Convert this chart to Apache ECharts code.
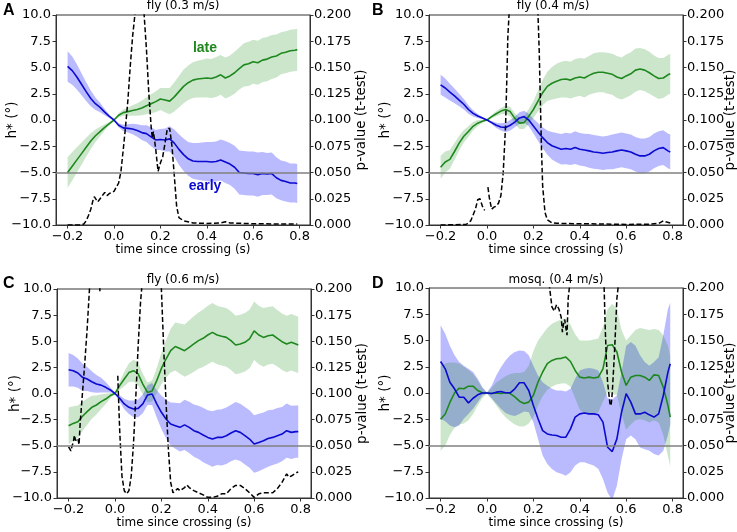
<!DOCTYPE html>
<html><head><meta charset="utf-8">
<script src="https://cdn.jsdelivr.net/npm/echarts@6/dist/echarts.min.js"></script>
<style>html,body{margin:0;padding:0;background:#fff}#c{width:737px;height:532px}</style>
</head><body><div id="c"></div>
<script>
// time since crossing (s)
const T = [-0.20,-0.18,-0.16,-0.14,-0.12,-0.10,-0.08,-0.06,-0.04,-0.02,0.00,0.02,0.04,0.06,0.08,0.10,0.12,0.14,0.16,0.18,0.20,0.22,0.24,0.26,0.28,0.30,0.32,0.34,0.36,0.38,0.40,0.42,0.44,0.46,0.48,0.50,0.52,0.54,0.56,0.58,0.60,0.62,0.64,0.66,0.68,0.70,0.72,0.74,0.76,0.78,0.79];
const xTicks = [-0.2, 0.0, 0.2, 0.4, 0.6, 0.8];

// Panel A: fly (0.3 m/s)
const lateA  = [-5.0,-4.4,-3.8,-3.2,-2.6,-2.0,-1.5,-1.1,-0.7,-0.35,0,0.45,0.7,0.8,0.9,1.0,1.15,1.35,1.55,1.75,2.0,1.9,1.8,2.2,2.7,3.2,3.55,3.8,3.9,3.95,4.0,3.95,4.1,4.3,4.0,4.2,4.5,4.9,5.25,5.35,5.55,5.45,5.7,5.8,6.0,6.1,6.35,6.45,6.6,6.65,6.7];
const lateErrA = [1.45,1.35,1.2,1.05,0.9,0.75,0.6,0.45,0.3,0.15,0.05,0.2,0.3,0.4,0.5,0.6,0.7,0.8,0.9,1.0,1.05,1.15,1.25,1.4,1.5,1.6,1.65,1.7,1.75,1.8,1.85,1.85,1.9,1.9,1.95,1.95,2.0,2.0,2.05,2.1,2.1,2.1,2.1,2.1,2.1,2.05,2.0,2.0,2.0,2.0,2.0];
const earlyA = [5.1,4.7,4.1,3.4,2.7,2.05,1.55,1.2,0.75,0.35,0,-0.5,-0.75,-0.8,-0.85,-1.0,-1.2,-1.3,-1.6,-1.9,-1.85,-1.9,-1.8,-2.2,-2.8,-3.3,-3.7,-3.9,-3.95,-3.95,-3.95,-4.0,-3.95,-3.8,-4.0,-4.2,-4.5,-5.0,-5.05,-5.1,-5.1,-5.2,-5.1,-5.15,-5.1,-5.5,-5.75,-5.85,-6.0,-6.0,-6.05];
const earlyErrA = [1.45,1.35,1.2,1.05,0.9,0.75,0.6,0.45,0.3,0.15,0.05,0.2,0.3,0.4,0.5,0.6,0.7,0.8,0.9,0.95,1.0,1.1,1.2,1.3,1.45,1.55,1.6,1.7,1.75,1.8,1.85,1.9,1.9,1.95,2.0,2.0,2.05,2.1,2.1,2.1,2.1,2.1,2.05,2.0,2.0,1.95,1.9,1.9,1.85,1.85,1.85];
const pTimeA = [-0.2,-0.14,-0.13,-0.12,-0.11,-0.1,-0.09,-0.085,-0.07,-0.06,-0.04,-0.03,-0.02,0.0,0.02,0.03,0.04,0.05,0.06,0.07,0.08,0.09,0.1,0.12,0.13,0.14,0.15,0.16,0.165,0.17,0.18,0.19,0.2,0.21,0.22,0.23,0.24,0.25,0.26,0.27,0.28,0.3,0.34,0.4,0.46,0.48,0.5,0.6,0.7,0.79];
const pValA  = [0,0,0.001,0.004,0.009,0.015,0.024,0.027,0.022,0.025,0.031,0.028,0.030,0.032,0.040,0.051,0.072,0.094,0.119,0.151,0.179,0.2,0.26,0.26,0.2,0.167,0.126,0.094,0.083,0.089,0.072,0.051,0.059,0.065,0.078,0.092,0.092,0.075,0.047,0.018,0.007,0.004,0.002,0.0015,0.002,0.003,0.002,0.0012,0.001,0.001];

// Panel B: fly (0.4 m/s)
const lateB  = [-4.5,-4.0,-3.75,-3.0,-2.2,-1.55,-1.1,-0.6,-0.3,-0.12,0,0.32,0.6,0.85,1.0,0.8,0.15,-0.3,-0.25,0.35,1.0,1.8,2.6,3.2,3.5,3.7,3.85,3.9,3.8,4.0,4.1,4.0,4.25,4.45,4.55,4.55,4.45,4.35,4.1,3.95,4.2,4.4,4.75,4.85,4.75,4.5,4.2,3.95,4.0,4.3,4.4];
const lateErrB = [1.1,1.0,0.9,0.8,0.7,0.6,0.5,0.4,0.3,0.15,0.05,0.15,0.25,0.3,0.4,0.45,0.5,0.55,0.6,0.7,0.8,1.0,1.2,1.4,1.55,1.65,1.7,1.75,1.75,1.8,1.8,1.85,1.85,1.9,1.9,1.9,1.95,1.95,2.0,2.0,2.05,2.05,2.05,2.0,2.0,2.0,1.95,1.95,1.9,1.9,1.9];
const earlyB = [3.35,3.05,2.65,2.3,1.9,1.5,1.0,0.63,0.38,0.2,0,-0.25,-0.5,-0.66,-0.72,-0.5,-0.2,0.2,0.32,0.0,-0.57,-1.14,-1.68,-2.15,-2.45,-2.63,-2.78,-2.72,-2.78,-2.63,-2.78,-2.85,-2.94,-3.04,-3.1,-3.16,-3.1,-3.04,-2.94,-2.85,-2.94,-3.04,-3.26,-3.42,-3.42,-3.26,-2.94,-2.72,-2.63,-2.94,-3.04];
const earlyErrB = [0.95,0.9,0.8,0.7,0.6,0.5,0.4,0.3,0.2,0.1,0.05,0.15,0.25,0.35,0.45,0.5,0.5,0.55,0.55,0.6,0.7,0.85,1.0,1.15,1.3,1.4,1.45,1.5,1.5,1.55,1.55,1.55,1.6,1.6,1.6,1.6,1.6,1.65,1.65,1.65,1.65,1.65,1.65,1.65,1.65,1.65,1.65,1.65,1.65,1.65,1.65];
const pTimeB = [-0.2,-0.09,-0.07,-0.05,-0.04,-0.03,-0.02,-0.01,0.0,0.004,0.01,0.02,0.03,0.04,0.05,0.06,0.07,0.08,0.085,0.09,0.095,0.1,0.21,0.22,0.225,0.23,0.235,0.24,0.25,0.26,0.28,0.3,0.4,0.5,0.6,0.7,0.74,0.76,0.77,0.79];
const pValB  = [0,0.0005,0.004,0.015,0.024,0.025,0.018,0.014,null,0.036,0.026,0.015,0.017,0.018,0.021,0.028,0.05,0.094,0.135,0.18,0.2,0.26,0.26,0.2,0.167,0.119,0.072,0.037,0.012,0.005,0.002,0.0016,0.0012,0.001,0.0005,0.0008,0.0015,0.004,0.003,0.002];

// Panel C: fly (0.6 m/s)
const lateC  = [-3.08,-2.86,-2.7,-2.18,-1.74,-1.32,-1.1,-0.78,-0.53,-0.2,0,0.75,1.39,2.0,2.18,1.87,0.9,0.1,0.25,1.23,2.4,3.3,4.1,4.5,4.3,4.1,4.42,4.74,5.06,5.28,5.6,5.85,5.6,5.47,5.37,5.06,4.64,4.74,4.9,5.22,6.0,5.6,5.37,5.53,5.6,5.28,4.96,4.74,4.9,4.74,4.64];
const lateErrC = [1.75,1.65,1.55,1.4,1.25,1.1,0.9,0.7,0.5,0.25,0.05,0.4,0.7,0.9,1.05,1.1,1.0,0.95,1.0,1.2,1.5,1.8,2.1,2.3,2.4,2.5,2.6,2.65,2.7,2.75,2.8,2.8,2.8,2.8,2.8,2.8,2.8,2.8,2.8,2.8,2.8,2.8,2.8,2.75,2.75,2.7,2.7,2.7,2.7,2.7,2.7];
const earlyC = [2.28,2.18,1.96,1.55,1.39,1.13,0.91,0.8,0.59,0.34,0,-0.46,-1.0,-1.32,-1.48,-1.42,-1.0,-0.15,-0.05,-1.0,-1.8,-2.44,-2.92,-3.08,-3.24,-3.0,-3.24,-3.56,-3.72,-3.97,-4.2,-4.36,-4.2,-4.2,-4.04,-3.78,-3.56,-3.72,-4.04,-4.36,-4.84,-4.68,-4.52,-4.3,-4.2,-4.04,-3.88,-3.56,-3.72,-3.65,-3.65];
const earlyErrC = [1.6,1.5,1.4,1.3,1.15,1.0,0.85,0.7,0.5,0.25,0.05,0.3,0.5,0.65,0.8,0.85,0.9,0.95,1.05,1.3,1.6,1.85,2.05,2.2,2.3,2.4,2.45,2.5,2.55,2.6,2.6,2.65,2.65,2.7,2.7,2.7,2.75,2.75,2.75,2.75,2.75,2.75,2.7,2.7,2.65,2.65,2.6,2.6,2.55,2.5,2.5];
const pTimeC = [-0.2,-0.195,-0.19,-0.185,-0.18,-0.175,-0.17,-0.16,-0.155,-0.15,-0.14,-0.13,-0.12,-0.11,-0.1,-0.07,-0.065,-0.06,-0.04,-0.02,0.012,0.02,0.03,0.04,0.05,0.06,0.07,0.08,0.09,0.1,0.11,0.115,0.12,0.19,0.2,0.21,0.22,0.23,0.24,0.25,0.26,0.27,0.28,0.3,0.31,0.32,0.34,0.36,0.38,0.4,0.42,0.44,0.46,0.48,0.5,0.52,0.54,0.56,0.58,0.6,0.62,0.64,0.66,0.68,0.7,0.72,0.74,0.75,0.76,0.78,0.79];
const pValC  = [0.049,0.047,0.045,0.05,0.053,0.06,0.055,0.057,0.051,0.072,0.101,0.13,0.162,0.2,0.26,0.22,0.198,0.22,0.26,null,0.117,0.066,0.021,0.007,0.004,0.007,0.021,0.053,0.098,0.146,0.187,0.2,0.26,0.26,0.2,0.143,0.092,0.047,0.015,0.005,0.007,0.009,0.007,0.010,0.0125,0.01,0.007,0.005,0.003,0.0006,0.0006,0.0016,0.004,0.004,0.009,0.012,0.012,0.009,0.005,0.0006,0.004,0.005,0.005,0.005,0.009,0.015,0.023,0.02,0.021,0.024,0.025];

// Panel D: mosq. (0.4 m/s)
const lateD  = [-2.5,-2.0,-0.9,0.0,0.46,0.4,0.65,0.65,0.24,0.02,0,-0.05,0.0,-0.05,0.02,-0.05,-0.37,-0.78,-1.0,-0.87,-0.22,1.05,2.0,2.8,3.1,3.26,3.3,3.42,3.0,2.15,1.51,1.42,1.51,1.42,1.51,2.3,4.53,4.6,3.9,2.0,0.72,1.51,1.67,1.67,1.51,1.2,1.73,1.67,0.56,-1.18,-2.3];
const lateLoD = [-5.5,-5.0,-4.0,-3.3,-3.0,-2.9,-2.6,-2.0,-1.2,-0.5,-0.05,-0.6,-1.2,-1.8,-2.3,-2.7,-3.0,-3.2,-3.2,-2.9,-2.3,-1.2,-0.3,0.3,0.6,0.8,0.9,0.9,0.6,-0.5,-1.6,-2.0,-2.0,-2.0,-1.8,-0.8,0.1,-0.1,-0.2,-2.0,-3.5,-3.0,-2.6,-2.5,-2.6,-2.8,-2.6,-2.8,-4.0,-6.0,-7.0];
const lateHiD = [2.6,2.8,2.9,2.9,2.8,2.5,2.2,1.8,1.2,0.5,0.05,0.5,1.0,1.3,1.6,1.8,1.9,1.9,2.0,2.6,4.0,5.0,5.6,6.2,6.6,6.8,7.0,7.1,6.5,5.6,5.0,5.0,5.0,5.1,5.2,6.3,8.0,8.5,8.0,6.0,5.0,5.5,6.0,6.2,6.1,6.0,6.1,6.0,5.5,4.5,3.5];
const earlyD = [3.0,2.3,1.03,0.4,-0.4,-0.4,-0.94,-0.5,-0.17,0.0,0,-0.05,0.08,0.14,0.02,0.02,0.4,0.97,0.97,0.24,-1.19,-2.46,-3.58,-3.9,-4.0,-4.05,-4.21,-4.21,-3.42,-2.3,-1.99,-1.9,-1.99,-1.99,-2.08,-2.78,-5.17,-5.58,-4.37,-1.83,-0.06,-0.87,-1.99,-1.99,-1.83,-2.08,-2.3,-1.99,-0.24,1.99,2.78];
const earlyLoD = [-2.46,-2.7,-3.1,-3.26,-3.1,-2.46,-2.0,-1.5,-0.87,-0.24,-0.05,-0.5,-1.0,-1.5,-1.9,-2.1,-2.2,-2.0,-1.76,-1.83,-2.78,-4.37,-5.96,-6.76,-7.23,-7.55,-7.7,-7.87,-7.55,-6.9,-6.6,-6.6,-6.76,-6.9,-7.23,-8.2,-9.5,-10.2,-8.8,-6.3,-4.4,-4.05,-4.4,-5.2,-5.35,-5.5,-5.8,-5.96,-5.5,-4.0,-3.0];
const earlyHiD = [6.45,5.65,4.5,3.6,2.95,2.6,2.3,2.0,1.35,0.55,0.05,0.7,1.67,2.46,3.1,3.6,3.9,4.05,4.0,3.6,2.6,1.67,1.03,0.7,0.4,0.24,0.24,0.14,0.4,1.35,2.15,2.3,2.37,2.3,2.15,1.03,-0.5,-0.6,-0.24,2.0,4.5,4.85,4.5,3.6,2.95,2.6,2.95,3.4,5.5,8.0,8.6];
const pTimeD = [-0.2,0.265,0.27,0.28,0.29,0.3,0.31,0.32,0.325,0.33,0.335,0.34,0.345,0.35,0.355,0.36,0.5,0.505,0.51,0.515,0.52,0.53,0.535,0.54,0.55,0.56,0.565,0.57,0.79];
const pValD  = [null,0.24,0.2,0.182,0.178,0.184,0.18,0.172,0.158,0.166,0.17,0.162,0.155,0.19,0.2,0.24,0.24,0.2,0.16,0.13,0.11,0.09,0.088,0.1,0.14,0.19,0.2,0.24,null];

const FONT = 'DejaVu Sans';
const GREEN = '#1e881e', BLUE = '#0a0ad0';
const lo = (m, e) => m.map((v, k) => v - e[k]);
const hi = (m, e) => m.map((v, k) => v + e[k]);
const fmt = d => v => (v < -1e-9 ? '\u2212' : '') + Math.abs(v).toFixed(d);

const panels = [
  {grid:{left:56, top:15, width:254, height:210}, title:'fly (0.3 m/s)', tx:183, ty:6, letter:'A', lx:3, ly:3,
   g:lateA, gLo:lo(lateA,lateErrA), gHi:hi(lateA,lateErrA), b:earlyA, bLo:lo(earlyA,earlyErrA), bHi:hi(earlyA,earlyErrA), pt:pTimeA, pv:pValA, gapL:37, gapR:44},
  {grid:{left:429, top:15, width:254, height:210}, title:'fly (0.4 m/s)', tx:553, ty:6, letter:'B', lx:372, ly:3,
   g:lateB, gLo:lo(lateB,lateErrB), gHi:hi(lateB,lateErrB), b:earlyB, bLo:lo(earlyB,earlyErrB), bHi:hi(earlyB,earlyErrB), pt:pTimeB, pv:pValB, gapL:37, gapR:40},
  {grid:{left:57, top:289, width:254, height:209}, title:'fly (0.6 m/s)', tx:183, ty:280, letter:'C', lx:3, ly:276,
   g:lateC, gLo:lo(lateC,lateErrC), gHi:hi(lateC,lateErrC), b:earlyC, bLo:lo(earlyC,earlyErrC), bHi:hi(earlyC,earlyErrC), pt:pTimeC, pv:pValC, gapL:35, gapR:44},
  {grid:{left:429, top:288, width:254, height:210}, title:'mosq. (0.4 m/s)', tx:556, ty:280, letter:'D', lx:372, ly:276,
   g:lateD, gLo:lateLoD, gHi:lateHiD, b:earlyD, bLo:earlyLoD, bHi:earlyHiD, pt:pTimeD, pv:pValD, gapL:37, gapR:40}
];

const txt = {color:'#000', fontFamily:FONT, fontSize:12};
const tickTxt = {color:'#000', fontFamily:FONT, fontSize:13};
const yNameTxt = {color:'#000', fontFamily:FONT, fontSize:13.5};
const axLine = {show:true, onZero:false, lineStyle:{color:'#333', width:1}};
const axTick = {show:true, length:3.5, inside:false, lineStyle:{color:'#333', width:1}};

const grids = [], xAxes = [], yAxes = [], series = [], graphics = [];
panels.forEach((P, i) => {
  grids.push(Object.assign({show:true, borderColor:'#333', borderWidth:1, backgroundColor:'transparent', containLabel:false, outerBoundsMode:'none'}, P.grid));
  xAxes.push({type:'value', gridIndex:i, min:-0.25, max:0.845,
    axisLine:axLine, axisTick:Object.assign({customValues:xTicks}, axTick),
    axisLabel:Object.assign({customValues:xTicks, formatter:fmt(1), margin:5}, tickTxt),
    splitLine:{show:false}, name:'time since crossing (s)', nameLocation:'middle', nameGap:19, nameTextStyle:txt, nameMoveOverlap:false});
  yAxes.push({type:'value', gridIndex:i, position:'left', min:-10, max:10, interval:2.5,
    axisLine:axLine, axisTick:axTick, axisLabel:Object.assign({formatter:fmt(1), margin:5}, tickTxt),
    splitLine:{show:false}, name:'h* (°)', nameLocation:'middle', nameGap:P.gapL, nameTextStyle:yNameTxt, nameMoveOverlap:false});
  yAxes.push({type:'value', gridIndex:i, position:'right', min:0, max:0.2, interval:0.025,
    axisLine:axLine, axisTick:axTick, axisLabel:Object.assign({formatter:fmt(3), margin:4}, tickTxt),
    splitLine:{show:false}, name:'p-value (t-test)', nameLocation:'middle', nameGap:P.gapR, nameTextStyle:yNameTxt, nameMoveOverlap:false});

  // shaded band between lower and upper bound, drawn through the axes' own coordinate mapping
  const band = (L, H, color) => ({
    type:'custom', xAxisIndex:i, yAxisIndex:2*i, silent:true, z:1, clip:true,
    data:[[T[0], L[0]]], encode:{x:0, y:1},
    renderItem:(params, api) => {
      const pts = [];
      for (let k = 0; k < T.length; k++) pts.push(api.coord([T[k], H[k]]));
      for (let k = T.length - 1; k >= 0; k--) pts.push(api.coord([T[k], L[k]]));
      const cs = params.coordSys;
      return {type:'polygon', shape:{points:pts}, style:{fill:color},
              clipPath:{type:'rect', shape:{x:cs.x, y:cs.y, width:cs.width, height:cs.height}}};
    }
  });
  series.push(band(P.bLo, P.bHi, 'rgba(0,0,255,0.27)'));
  series.push(band(P.gLo, P.gHi, 'rgba(0,128,0,0.2)'));
  series.push({type:'line', xAxisIndex:i, yAxisIndex:2*i, data:T.map((t,k)=>[t, P.g[k]]), symbol:'none', showSymbol:false,
    lineStyle:{color:GREEN, width:1.6}, silent:true, z:3});
  series.push({type:'line', xAxisIndex:i, yAxisIndex:2*i, data:T.map((t,k)=>[t, P.b[k]]), symbol:'none', showSymbol:false,
    lineStyle:{color:BLUE, width:1.6}, silent:true, z:3});
  series.push({type:'line', xAxisIndex:i, yAxisIndex:2*i+1, data:P.pt.map((t,k)=>[t, P.pv[k]]), symbol:'none', showSymbol:false, connectNulls:false,
    lineStyle:{color:'#000', width:1.5, type:[5,2.5]}, silent:true, z:4,
    markLine:{silent:true, symbol:'none', label:{show:false}, lineStyle:{color:'#808080', width:1.5, type:'solid'}, data:[{yAxis:0.05}], z:5}});

  graphics.push({type:'text', x:P.tx, y:P.ty, style:{text:P.title, fill:'#000', font:'12px "DejaVu Sans"', textAlign:'center', textVerticalAlign:'middle'}});
  graphics.push({type:'text', x:P.lx, y:P.ly, style:{text:P.letter, fill:'#000', font:'bold 16px "Liberation Sans"', textAlign:'left', textVerticalAlign:'top'}});
});
graphics.push({type:'text', x:205, y:48, style:{text:'late', fill:GREEN, font:'bold 14px "Liberation Sans"', textAlign:'center', textVerticalAlign:'middle'}});
graphics.push({type:'text', x:205, y:186, style:{text:'early', fill:BLUE, font:'bold 14px "Liberation Sans"', textAlign:'center', textVerticalAlign:'middle'}});

const chart = echarts.init(document.getElementById('c'), null, {renderer:'canvas'});
chart.setOption({
  animation:false, backgroundColor:'#fff',
  grid:grids, xAxis:xAxes, yAxis:yAxes, series:series, graphic:graphics
});
</script></body></html>
